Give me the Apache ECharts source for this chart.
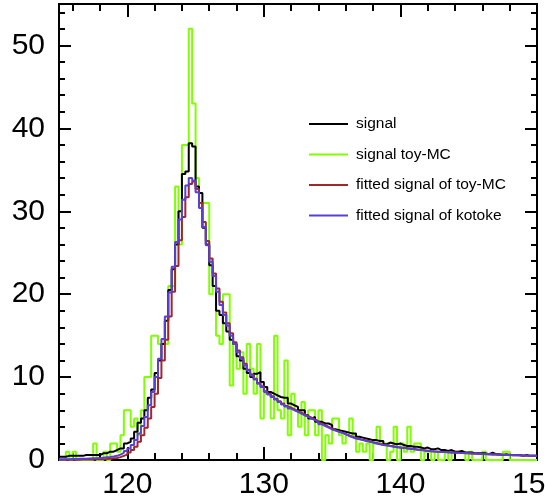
<!DOCTYPE html>
<html>
<head>
<meta charset="utf-8">
<script src="https://cdn.jsdelivr.net/npm/echarts@6/dist/echarts.min.js"></script>
<style>
  html, body { margin: 0; padding: 0; background: #fff; }
  #chart { width: 545px; height: 501px; }
</style>
</head>
<body>
<div id="chart"></div>
<script>
// Histogram binning: 140 bins of width 0.25 from 115 to 150
const binStart = 115;
const binWidth = 0.25;

// Axis ticks and labels
const xTickLabels = [120, 130, 140, 150];
const xMinorTicks = [116, 118, 122, 124, 126, 128, 132, 134, 136, 138, 142, 144, 146, 148];
const yTickLabels = [0, 10, 20, 30, 40, 50];
const yMinorTicks = [2, 4, 6, 8, 12, 14, 16, 18, 22, 24, 26, 28, 32, 34, 36, 38, 42, 44, 46, 48, 52, 54];

const seriesNames = ['signal', 'signal toy-MC', 'fitted signal of toy-MC', 'fitted signal of kotoke'];

// Bin contents, one value per bin
const signal = [
  0.4,0.4,0.5,0.5,0.5,0.5,0.5,0.6,
  0.6,0.6,0.6,0.6,
  0.8,0.8,1.0,1.0,
  1.2,1.4,1.4,2.0,
  2.2,2.6,3.4,4.5,
  5.0,6.0,7.5,8.5,
  10.5,12.0,14.0,16.8,
  20.5,23.0,26.0,30.0,
  34.5,34.8,38.2,37.8,
  33.0,32.2,28.0,26.0,
  23.5,21.0,18.0,17.5,
  16.5,15.5,14.5,14.0,
  12.5,12.0,11.0,10.5,
  10.0,10.4,10.6,9.4,
  8.8,8.2,8.0,7.8,
  7.6,7.5,7.5,6.8,
  6.6,6.4,6.0,6.0,
  5.4,5.0,5.2,4.6,
  4.6,4.4,4.4,4.2,
  3.7,3.6,3.5,3.4,
  3.3,3.2,3.2,2.8,
  2.7,2.6,2.5,2.4,
  2.4,2.3,2.3,1.9,
  2.1,2.0,1.9,2.0,
  1.8,1.7,1.7,1.6,
  1.6,1.5,1.4,1.5,
  1.3,1.3,1.4,1.2,
  1.2,1.1,1.2,1.0,
  1.0,1.1,0.9,0.9,
  0.9,0.8,0.8,0.8,
  0.8,0.7,0.9,0.7,
  0.7,0.6,0.7,0.6,
  0.6,0.6,0.6,0.5,
  0.6,0.5,0.5,0.5
];

const toyMC = [
  0,0,1,0,1,0,0,0,
  0,0,2,0,
  0,1,0,2,
  2,1,3,6,
  6,4,5,3,
  6,10,10,15,
  15,14,14,14,
  21,21,33,26,
  38,38,52,43,
  34,31,31,31,
  20,21,15,14,
  20,20,9,14,
  11,13,8,14,
  11,8,14,5,
  8,8,5,15,
  6,5,12,3,
  8,6,4,7,
  3,6,6,3,
  6,0,3,2,
  5,5,3,2,
  3,5,3,1,
  2,1,2,0,
  2,4,2,2,
  0,1,4,0,
  2,1,4,1,
  2,2,0,1,
  1,0,1,0,
  0,1,0,1,
  1,1,1,0,
  1,0,0,0,
  1,0,0,0,
  0,0,1,1,
  0,0,0,0,
  0,0,0,0
];

const fitToyMC = [
  0.02,0.02,0.03,0.03,0.04,0.04,0.05,0.05,
  0.06,0.07,0.08,0.09,
  0.1,0.12,0.15,0.2,
  0.25,0.35,0.5,0.65,
  0.9,1.2,1.6,2.2,
  3.0,3.9,5.0,6.4,
  8.0,9.9,12.0,14.5,
  17.3,20.3,23.4,26.5,
  29.3,31.7,33.3,33.6,
  32.7,31.0,28.7,26.4,
  24.3,22.5,20.7,19.1,
  17.8,16.5,15.3,14.2,
  13.2,12.4,11.6,10.9,
  10.3,9.8,9.3,8.9,
  8.3,8.0,7.7,7.4,
  7.1,6.8,6.5,6.3,
  6.1,5.9,5.7,5.5,
  5.3,5.1,4.9,4.7,
  4.4,4.2,4.0,3.8,
  3.6,3.45,3.3,3.15,
  2.95,2.8,2.65,2.55,
  2.45,2.35,2.25,2.15,
  2.05,1.95,1.85,1.8,
  1.72,1.65,1.58,1.52,
  1.47,1.42,1.37,1.32,
  1.27,1.22,1.17,1.12,
  1.07,1.04,1.01,0.98,
  0.96,0.93,0.91,0.89,
  0.87,0.85,0.83,0.81,
  0.79,0.77,0.75,0.73,
  0.71,0.69,0.67,0.66,
  0.64,0.62,0.61,0.6,
  0.58,0.57,0.56,0.55,
  0.53,0.52,0.51,0.5
];

const fitKotoke = [
  0.1,0.1,0.1,0.12,0.12,0.14,0.15,0.16,
  0.18,0.2,0.22,0.25,
  0.28,0.32,0.36,0.42,
  0.5,0.65,0.85,1.1,
  1.4,1.8,2.4,3.2,
  4.1,5.2,6.6,8.2,
  10.0,12.2,14.6,17.3,
  20.2,23.3,26.3,29.0,
  31.4,33.1,34.0,33.7,
  32.3,30.4,28.1,25.9,
  23.9,22.2,20.3,18.7,
  17.5,16.2,15.0,14.0,
  13.0,12.2,11.4,10.8,
  10.2,9.7,9.2,8.8,
  8.2,7.9,7.6,7.3,
  7.0,6.7,6.45,6.2,
  6.0,5.8,5.6,5.4,
  5.2,5.0,4.8,4.6,
  4.3,4.1,3.9,3.7,
  3.55,3.4,3.25,3.1,
  2.9,2.75,2.6,2.5,
  2.4,2.3,2.2,2.1,
  2.0,1.9,1.8,1.75,
  1.7,1.6,1.55,1.5,
  1.45,1.4,1.35,1.3,
  1.25,1.2,1.15,1.1,
  1.05,1.02,1.0,0.97,
  0.95,0.92,0.9,0.88,
  0.86,0.84,0.82,0.8,
  0.78,0.76,0.74,0.72,
  0.7,0.68,0.66,0.65,
  0.63,0.62,0.6,0.59,
  0.57,0.56,0.55,0.54,
  0.52,0.51,0.5,0.49
];

const colors = {
  signal: '#000000',
  toyMC: '#7fff00',
  fitToyMC: '#a02828',
  fitKotoke: '#5a3fd6'
};

// Turn bin contents into [lowEdge, content] points for a step outline
function toSteps(values) {
  const pts = values.map((v, i) => [binStart + i * binWidth, v]);
  pts.push([binStart + values.length * binWidth, values[values.length - 1]]);
  return pts;
}

const font = 'Liberation Sans, Arial, Helvetica, sans-serif';

function xAxisDef(position, ticks, tickLen, withLabels) {
  return {
    type: 'value', position: position, min: 115, max: 150,
    axisLine: { show: true, onZero: false, lineStyle: { color: '#000', width: 2 } },
    axisTick: { show: true, inside: true, length: tickLen, customValues: ticks,
                lineStyle: { color: '#000', width: 2 } },
    axisLabel: withLabels ? { show: true, customValues: xTickLabels, margin: 10,
                fontSize: 30, color: '#000', fontFamily: font } : { show: false },
    splitLine: { show: false }
  };
}

function yAxisDef(position, ticks, tickLen, withLabels) {
  return {
    type: 'value', position: position, min: 0, max: 55,
    axisLine: { show: true, onZero: false, lineStyle: { color: '#000', width: 2 } },
    axisTick: { show: true, inside: true, length: tickLen, customValues: ticks,
                lineStyle: { color: '#000', width: 2 } },
    axisLabel: withLabels ? { show: true, customValues: yTickLabels, margin: 14,
                fontSize: 30, color: '#000', fontFamily: font } : { show: false },
    splitLine: { show: false }
  };
}

function stepSeries(name, data, color, z) {
  return {
    name: name, type: 'line', step: 'end', data: toSteps(data),
    xAxisIndex: 0, yAxisIndex: 0, symbol: 'none', z: z, silent: true,
    lineStyle: { color: color, width: 2 }, itemStyle: { color: color },
    clip: true
  };
}

const legendCenters = [125, 155.5, 186, 216.5];
const legendColors = [colors.signal, colors.toyMC, colors.fitToyMC, colors.fitKotoke];

const chart = echarts.init(document.getElementById('chart'), null, { renderer: 'canvas' });
chart.setOption({
  animation: false,
  backgroundColor: '#fff',
  grid: { left: 59, right: 8, top: 4, bottom: 41, containLabel: false, outerBoundsMode: 'none' },
  xAxis: [
    xAxisDef('bottom', xTickLabels, 13, true),
    xAxisDef('bottom', xMinorTicks, 7, false),
    xAxisDef('top', xTickLabels, 13, false),
    xAxisDef('top', xMinorTicks, 7, false)
  ],
  yAxis: [
    yAxisDef('left', yTickLabels, 12, true),
    yAxisDef('left', yMinorTicks, 6, false),
    yAxisDef('right', yTickLabels, 12, false),
    yAxisDef('right', yMinorTicks, 6, false)
  ],
  legend: seriesNames.map((n, i) => ({
    data: [{ name: n, icon: 'rect', itemStyle: { color: legendColors[i] } }],
    orient: 'vertical', left: 309, top: legendCenters[i] - 9,
    itemWidth: 39, itemHeight: 2, padding: 0, selectedMode: false,
    textStyle: { fontSize: 15.5, color: '#000', fontFamily: font, padding: [0, 0, 0, 3] }
  })),
  series: [
    stepSeries(seriesNames[1], toyMC, colors.toyMC, 2),
    stepSeries(seriesNames[0], signal, colors.signal, 3),
    stepSeries(seriesNames[2], fitToyMC, colors.fitToyMC, 4),
    stepSeries(seriesNames[3], fitKotoke, colors.fitKotoke, 5)
  ]
});
</script>
</body>
</html>
